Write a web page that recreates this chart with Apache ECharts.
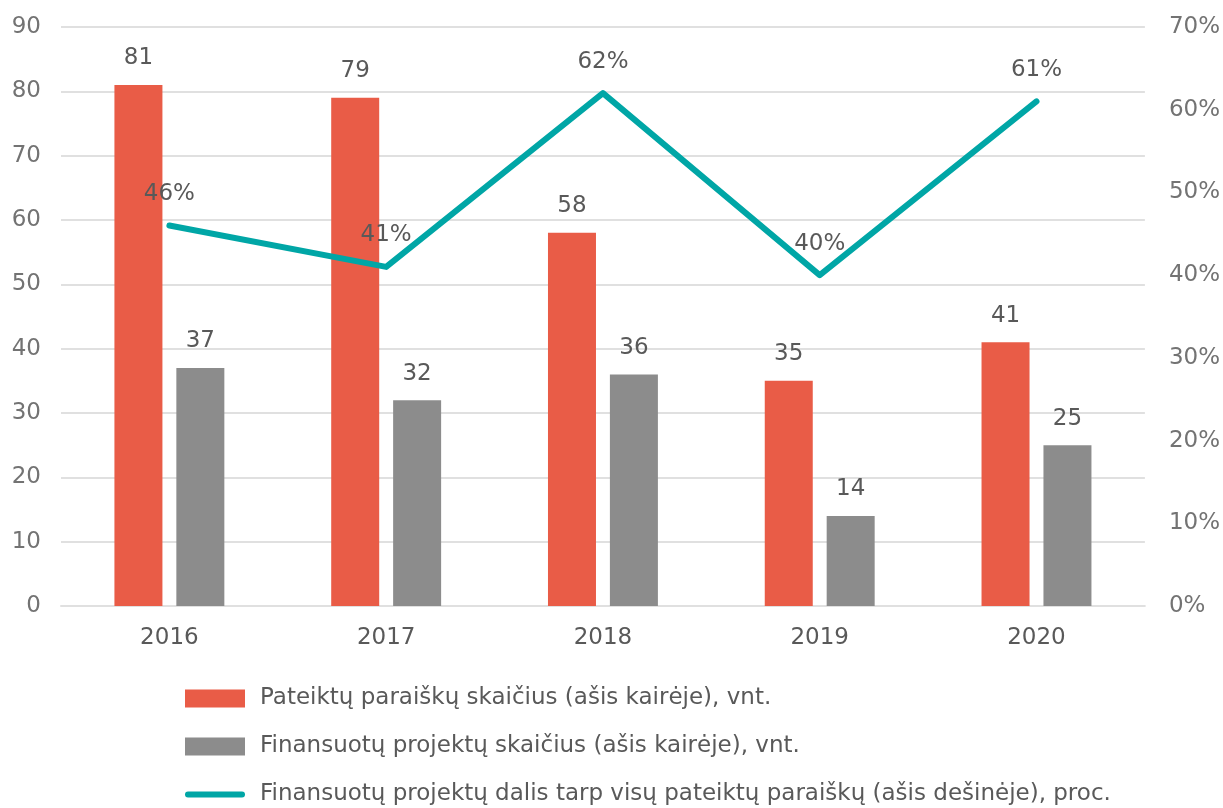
<!DOCTYPE html>
<html><head><meta charset="utf-8">
<script src="https://cdn.jsdelivr.net/npm/echarts@6/dist/echarts.min.js"></script>
<style>html,body{margin:0;padding:0;background:#fff}#c{width:1223px;height:808px}</style>
</head><body><div id="c"></div>
<script>
const categories = ['2016','2017','2018','2019','2020'];
const submitted = [81, 79, 58, 35, 41];
const funded = [37, 32, 36, 14, 25];
const share = [46, 41, 62, 40, 61];
const names = [
  'Pateiktų paraiškų skaičius (ašis kairėje), vnt.',
  'Finansuotų projektų skaičius (ašis kairėje), vnt.',
  'Finansuotų projektų dalis tarp visų pateiktų paraiškų (ašis dešinėje), proc.'
];
const FONT = 'DejaVu Sans';
const FS = 23;
const txt = '#595959';
const teal = '#00a6a6';
const chart = echarts.init(document.getElementById('c'));
chart.setOption({
  animation: false,
  textStyle: {fontFamily: FONT},
  grid: {left: 61, right: 77, top: 27, bottom: 202},
  legend: {
    orient: 'vertical', left: 180, top: 682, height: 200, itemWidth: 60, itemHeight: 18, itemGap: 25,
    textStyle: {fontSize: FS, color: txt, fontFamily: FONT, padding: [0, 0, 0, 10]},
    data: [
      {name: names[0], icon: 'rect'},
      {name: names[1], icon: 'rect'},
      {name: names[2], icon: 'path://M3,0 L57,0 A3,3 0 0 1 57,6 L3,6 A3,3 0 0 1 3,0 Z', itemStyle: {color: teal, opacity: 1}}
    ]
  },
  xAxis: {
    type: 'category', data: categories,
    axisLine: {lineStyle: {color: '#e0e0e0', width: 2}},
    axisTick: {show: false},
    axisLabel: {fontSize: FS, color: txt, margin: 21, fontFamily: FONT}
  },
  yAxis: [
    {type: 'value', min: 0, max: 90, interval: 10,
     axisLine: {show: false}, axisTick: {show: false},
     splitLine: {lineStyle: {color: '#e0e0e0', width: 2}},
     axisLabel: {fontSize: FS, color: '#737373', margin: 20, fontFamily: FONT}},
    {type: 'value', min: 0, max: 70, interval: 10,
     axisLine: {show: false}, axisTick: {show: false}, splitLine: {show: false},
     axisLabel: {fontSize: FS, color: '#737373', margin: 24, formatter: '{value}%', fontFamily: FONT}}
  ],
  series: [
    {name: names[0], type: 'bar', data: submitted, barWidth: 48, barGap: '29%',
     itemStyle: {color: '#e95c47'},
     label: {show: true, position: 'top', distance: 15, fontSize: FS, color: txt, fontFamily: FONT}},
    {name: names[1], type: 'bar', data: funded, barWidth: 48,
     itemStyle: {color: '#8c8c8c'},
     label: {show: true, position: 'top', distance: 15, fontSize: FS, color: txt, fontFamily: FONT}},
    {name: names[2], type: 'line', yAxisIndex: 1, data: share,
     symbol: 'circle', symbolSize: 2, showSymbol: true,
     lineStyle: {color: teal, width: 6, cap: 'round', join: 'round'},
     itemStyle: {color: 'rgba(0,0,0,0)'},
     label: {show: true, position: 'top', distance: 19, fontSize: FS, color: txt, formatter: '{c}%', fontFamily: FONT}}
  ]
});
</script></body></html>
